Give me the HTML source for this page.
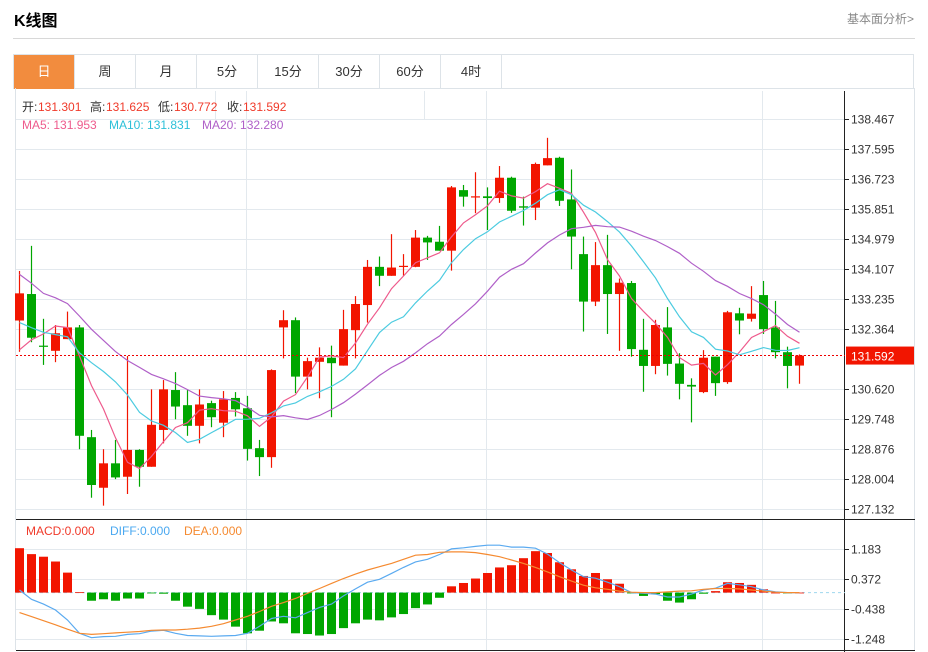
<!DOCTYPE html>
<html><head><meta charset="utf-8"><style>
body{margin:0;background:#fff;width:928px;height:652px;overflow:hidden;font-family:"Liberation Sans","Noto Sans CJK SC",sans-serif;}
#title{position:absolute;left:14px;top:7px;font-size:16px;font-weight:bold;color:#000;}
#more{position:absolute;left:847px;top:10px;font-size:12px;color:#888;}
#hr{position:absolute;left:13px;top:38px;width:902px;height:1px;background:#d8d8d8;}
#tabs{position:absolute;left:13px;top:54px;width:901px;height:35px;border:1px solid #dde3e8;box-sizing:border-box;}
.tab{position:absolute;top:0;height:34px;width:61px;line-height:34px;text-align:center;font-size:13px;color:#333;border-right:1px solid #dde3e8;box-sizing:border-box;}
.tab.on{background:#f28c3e;color:#fff;}
svg{position:absolute;left:0;top:0;}
</style></head><body>
<div id="title">K线图</div>
<div id="more">基本面分析&gt;</div>
<div id="hr"></div>
<div id="tabs">
<div class="tab on" style="left:0">日</div>
<div class="tab" style="left:61px">周</div>
<div class="tab" style="left:122px">月</div>
<div class="tab" style="left:183px">5分</div>
<div class="tab" style="left:244px">15分</div>
<div class="tab" style="left:305px">30分</div>
<div class="tab" style="left:366px">60分</div>
<div class="tab" style="left:427px">4时</div>
</div>
<svg id="chart" width="928" height="652"></svg>
<script>
const opens=[132.61,133.38,131.88,131.73,132.07,132.41,129.22,127.75,128.46,128.07,128.85,128.36,129.43,130.59,130.15,129.55,130.21,129.64,130.36,130.06,128.90,128.64,132.41,132.62,130.98,131.41,131.53,131.30,132.33,133.06,134.17,133.91,134.17,134.17,135.02,134.90,134.64,136.40,136.21,136.22,136.17,136.76,135.93,135.89,137.12,137.34,136.13,134.54,133.16,134.22,133.38,133.70,131.76,131.29,132.41,131.36,130.74,130.53,131.56,130.82,132.82,132.66,133.35,132.41,131.69,131.301];
const highs=[134.05,134.78,132.66,132.48,132.87,132.48,129.43,128.87,129.14,131.58,128.87,130.61,130.88,131.11,130.59,130.61,130.28,130.56,130.53,130.42,129.14,131.19,132.91,132.70,131.53,131.83,131.88,132.92,133.32,134.37,134.47,135.12,134.54,135.24,135.07,135.36,136.52,136.55,136.92,136.48,137.10,136.79,136.21,137.20,137.92,137.37,137.00,135.05,134.89,135.10,133.83,133.76,132.66,132.63,133.00,131.66,130.93,131.75,131.56,132.89,132.98,133.61,133.76,133.18,131.85,131.625];
const lows=[131.70,131.98,131.32,131.40,132.07,128.87,127.46,127.23,128.00,127.57,127.78,128.36,129.04,129.74,129.26,129.04,129.51,129.22,129.82,128.54,128.09,128.33,131.51,130.50,130.61,130.35,129.80,131.30,131.51,132.55,133.61,133.91,133.91,134.16,134.37,134.64,134.06,135.92,135.73,135.24,136.03,135.74,135.37,135.53,137.12,135.94,134.10,132.29,133.03,132.22,131.73,131.56,130.54,131.05,131.01,130.32,129.65,130.50,130.42,130.77,132.21,132.58,132.22,131.51,130.64,130.772];
const closes=[133.40,132.11,131.86,132.24,132.41,129.26,127.83,128.46,128.05,128.85,128.36,129.58,130.61,130.11,129.55,130.17,129.80,130.32,130.03,128.88,128.64,131.17,132.62,130.98,131.43,131.53,131.37,132.36,133.09,134.17,133.91,134.15,134.20,135.02,134.88,134.64,136.48,136.21,136.22,136.17,136.76,135.80,135.89,137.16,137.33,136.09,135.05,133.16,134.22,133.38,133.71,131.78,131.29,132.48,131.35,130.77,130.69,131.53,130.79,132.85,132.61,132.81,132.36,131.69,131.29,131.592];
const prevCloses=[137.3,137.7,134.8,135.8,136.5,135.5,134.9,134.6,134.0,132.4,133.6,133.2,132.9,133.04,133.96,130.66,131.01,131.09,132.64];
const macdHist=[1.20,1.04,0.97,0.84,0.54,0.01,-0.22,-0.18,-0.22,-0.16,-0.16,-0.02,-0.03,-0.22,-0.38,-0.44,-0.61,-0.73,-0.92,-1.10,-1.03,-0.78,-0.83,-1.10,-1.12,-1.16,-1.12,-0.96,-0.83,-0.73,-0.75,-0.67,-0.58,-0.42,-0.32,-0.14,0.17,0.26,0.38,0.53,0.68,0.74,0.93,1.12,1.07,0.82,0.63,0.45,0.53,0.36,0.24,-0.02,-0.09,-0.04,-0.22,-0.27,-0.18,-0.03,0.04,0.28,0.26,0.21,0.09,0.00,-0.02,0.00];
const diffLine=[0.07,-0.18,-0.31,-0.47,-0.74,-1.10,-1.22,-1.19,-1.18,-1.13,-1.11,-1.04,-1.02,-1.10,-1.16,-1.17,-1.18,-1.17,-1.16,-1.10,-0.91,-0.70,-0.64,-0.68,-0.54,-0.40,-0.31,-0.09,0.10,0.28,0.36,0.52,0.68,0.83,0.90,1.03,1.18,1.21,1.25,1.28,1.28,1.23,1.23,1.20,1.04,0.81,0.61,0.43,0.39,0.28,0.16,0.00,-0.02,-0.04,-0.12,-0.12,-0.04,0.07,0.12,0.25,0.21,0.16,0.07,0.02,0.00,0.00];
const deaLine=[-0.54,-0.65,-0.76,-0.87,-0.99,-1.10,-1.13,-1.11,-1.09,-1.07,-1.05,-1.02,-1.01,-1.01,-0.99,-0.96,-0.91,-0.84,-0.74,-0.64,-0.51,-0.37,-0.27,-0.16,-0.02,0.11,0.25,0.38,0.50,0.61,0.70,0.79,0.90,1.01,1.03,1.09,1.10,1.10,1.08,1.03,0.97,0.88,0.79,0.68,0.56,0.43,0.31,0.20,0.13,0.09,0.04,0.01,0.00,0.00,0.02,0.04,0.05,0.09,0.11,0.11,0.10,0.07,0.04,0.01,0.00,0.00];
const priceTicks=[138.467,137.595,136.723,135.851,134.979,134.107,133.235,132.364,131.592,130.620,129.748,128.876,128.004,127.132];
const macdTicks=[1.183,0.372,-0.438,-1.248];

const svg=document.getElementById('chart');
const NS='http://www.w3.org/2000/svg';
function mk(t,a,parent){const e=document.createElementNS(NS,t);for(const k in a)e.setAttribute(k,a[k]);(parent||svg).appendChild(e);return e;}
const L=16,R=845;
const xOf=i=>19.5+12*i;
const yP=p=>119+(138.467-p)*34.408;
const yM=v=>592.6-v*37.0;
// grid
const grid=mk('g',{});


priceTicks.forEach(t=>{if(t===131.592)return;const y=Math.round(yP(t))+0.5;mk('line',{x1:L,x2:R,y1:y,y2:y,stroke:'#e3e9ee'},grid);});
macdTicks.forEach(t=>{const y=Math.round(yM(t))+0.5;mk('line',{x1:L,x2:R,y1:y,y2:y,stroke:'#e3e9ee'},grid);});
[246.5,486.5,762.5].forEach(x=>mk('line',{x1:x,x2:x,y1:91,y2:650,stroke:'#e3e9ee'},grid));
mk('line',{x1:215.5,x2:215.5,y1:91,y2:119,stroke:'#e3e9ee'},grid);
mk('line',{x1:424.5,x2:424.5,y1:91,y2:119,stroke:'#e3e9ee'},grid);
mk('line',{x1:914.5,x2:914.5,y1:88,y2:650,stroke:'#dde3e8'},grid);
mk('line',{x1:L-0.5,x2:L-0.5,y1:88,y2:650,stroke:'#dde3e8'},grid);
// axes
const ax=mk('g',{});


mk('line',{x1:R-0.5,x2:R-0.5,y1:91,y2:652,stroke:'#222'},ax);
mk('line',{x1:L,x2:915,y1:519.5,y2:519.5,stroke:'#222'},ax);
mk('line',{x1:L,x2:915,y1:650.5,y2:650.5,stroke:'#222'},ax);
priceTicks.forEach(t=>{if(t===131.592)return;const y=Math.round(yP(t))+0.5;
 mk('line',{x1:R,x2:R+4,y1:y,y2:y,stroke:'#222'},ax);
 const tx=mk('text',{x:851,y:y+4,'font-size':12,fill:'#333'},ax);tx.textContent=t.toFixed(3);
 
 });
macdTicks.forEach(t=>{const y=Math.round(yM(t))+0.5;
 mk('line',{x1:R,x2:R+4,y1:y,y2:y,stroke:'#222'},ax);
 const tx=mk('text',{x:851,y:y+4,'font-size':12,fill:'#333'},ax);tx.textContent=t.toFixed(3);
 
 });
// candles
const cg=mk('g',{});


for(let i=0;i<closes.length;i++){
 const up=closes[i]>=opens[i];const col=up?'#f21500':'#00a600';const x=xOf(i);
 const g=mk('g',{},cg);
 
 
 mk('line',{x1:x,x2:x,y1:yP(highs[i]),y2:yP(lows[i]),stroke:col,'stroke-width':1.2},g);
 const t=yP(Math.max(opens[i],closes[i])),b=yP(Math.min(opens[i],closes[i]));
 mk('rect',{x:x-4.5,y:t,width:9,height:Math.max(1.2,b-t),fill:col},g);
}
// MAs
const all=prevCloses.concat(closes);const off=prevCloses.length;
function ma(n){const r=[];for(let i=0;i<closes.length;i++){let s=0;for(let k=0;k<n;k++)s+=all[off+i-k];r.push(s/n);}return r;}
[[5,'#ee5a8c','ma5-line'],[10,'#4ccbe0','ma10-line'],[20,'#b060c8','ma20-line']].forEach(([n,c,nm])=>{
 const v=ma(n);const p=mk('polyline',{points:v.map((m,i)=>xOf(i)+','+yP(m).toFixed(1)).join(' '),fill:'none',stroke:c,'stroke-width':1.2});
 
 });
// last price line
const ly=yP(closes[closes.length-1]);
const pl=mk('line',{x1:L,x2:R,y1:ly,y2:ly,stroke:'#e00','stroke-width':1,'stroke-dasharray':'2,2'});


const lb=mk('rect',{x:846,y:ly-9,width:68,height:18,fill:'#f21500'});


const lt=mk('text',{x:851,y:ly+5,'font-size':12,fill:'#fff'});lt.textContent='131.592';


// MACD
const z=yM(0);
const mz=mk('line',{x1:L,x2:R,y1:z,y2:z,stroke:'#9fd8ee','stroke-dasharray':'3,3'});


const hg=mk('g',{});


macdHist.forEach((v,i)=>{const y=yM(v);const r=mk('rect',{x:xOf(i)-4.5,y:Math.min(y,z),width:9,height:Math.max(0.8,Math.abs(y-z)),fill:v>=0?'#f21500':'#00a600'},hg);
 
 });
[[diffLine,'#5aaaf0','diff-line'],[deaLine,'#f58a30','dea-line']].forEach(([a,c,nm])=>{
 const p=mk('polyline',{points:a.map((v,i)=>xOf(i)+','+yM(v).toFixed(1)).join(' '),fill:'none',stroke:c,'stroke-width':1.2});
 
 });
// legends
function txt(x,y,s,c,nm){const t=mk('text',{x:x,y:y,'font-size':12,fill:c});t.textContent=s;return t;}
txt(22,111,'开:','#333','open-label');txt(38,111,'131.301','#f03a2a','open-value');
txt(90,111,'高:','#333','high-label');txt(106,111,'131.625','#f03a2a','high-value');
txt(158,111,'低:','#333','low-label');txt(174,111,'130.772','#f03a2a','low-value');
txt(227,111,'收:','#333','close-label');txt(243,111,'131.592','#f03a2a','close-value');
txt(22,129,'MA5: 131.953','#ee5a8c','ma5-legend');
txt(109,129,'MA10: 131.831','#2cc0d8','ma10-legend');
txt(202,129,'MA20: 132.280','#b060c8','ma20-legend');
txt(26,535,'MACD:0.000','#f03a2a','macd-legend');
txt(110,535,'DIFF:0.000','#4aa8f0','diff-legend');
txt(184,535,'DEA:0.000','#f58a30','dea-legend');
</script>
</body></html>
